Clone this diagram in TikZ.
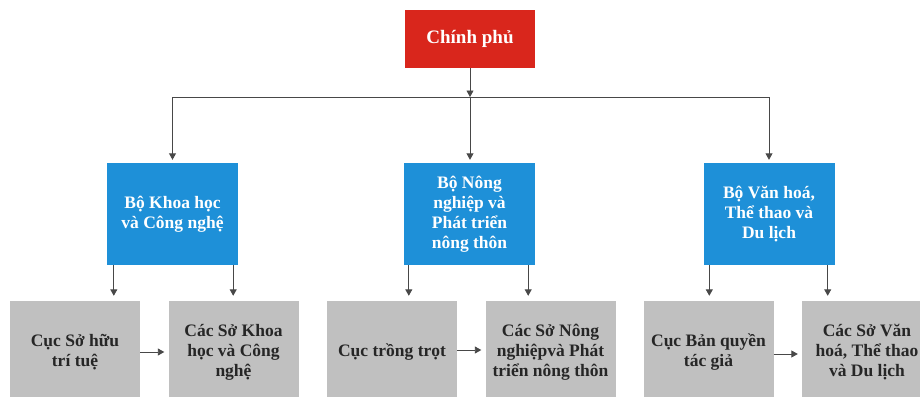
\documentclass[tikz,border=0pt]{standalone}
\usepackage{fontspec}
\setmainfont{Liberation Serif}
\usetikzlibrary{arrows.meta}
\definecolor{govred}{HTML}{D9261C}
\definecolor{minblue}{HTML}{1E90D8}
\definecolor{boxgrey}{HTML}{C0C0C0}
\definecolor{linegrey}{HTML}{484848}
\definecolor{greytext}{HTML}{262626}
\begin{document}
\begin{tikzpicture}[x=1pt,y=-1pt,
  govbox/.style={fill=govred,text=white,minimum width=130pt,minimum height=58pt,inner sep=0pt,
    font=\fontsize{19}{22}\selectfont\bfseries},
  minbox/.style={fill=minblue,text=white,minimum width=131pt,minimum height=102pt,inner sep=0pt,
    align=center,font=\fontsize{17.5}{20}\selectfont\bfseries},
  subbox/.style={fill=boxgrey,text=greytext,minimum width=130pt,minimum height=102pt,inner sep=0pt,
    align=center,font=\fontsize{17.5}{20}\selectfont\bfseries},
  conn/.style={draw=linegrey,line width=0.9pt},
  arr/.style={conn,-{Triangle[width=7pt,length=6.5pt]}}
]
\useasboundingbox (0,0) rectangle (920,396);
\clip (0,0) rectangle (920,396);
\fill[white] (0,0) rectangle (920,396);

\node[govbox] (gov) at (470,39) {Chính phủ};
\coordinate (j) at (470,97);

\node[minbox] (b1) at (172.5,214) {Bộ Khoa học\\và Công nghệ};
\node[minbox] (b2) at (469.5,214) {Bộ Nông\\nghiệp và\\Phát triển\\nông thôn};
\node[minbox] (b3) at (769,214) {Bộ Văn hoá,\\Thể thao và\\Du lịch};

\node[subbox] (a1) at (75,352) {Cục Sở hữu\\trí tuệ};
\node[subbox] (a2) at (233.5,352) {Các Sở Khoa\\học và Công\\nghệ};
\node[subbox] (a3) at (392,352) {Cục trồng trọt};
\node[subbox] (a4) at (550.5,352) {Các Sở Nông\\nghiệpvà Phát\\triển nông thôn};
\node[subbox] (a5) at (708.5,352) {Cục Bản quyền\\tác giả};
\node[subbox] (a6) at (867,352) {Các Sở Văn\\hoá, Thể thao\\và Du lịch};

% top level
\draw[arr] (gov) -- (j);
\draw[conn] (b1.north |- j) -- (b3.north |- j);
\draw[arr,shorten >=3pt] (b1.north |- j) -- (b1.north);
\draw[arr,shorten >=3pt] (j) -- (j |- b2.north);
\draw[arr,shorten >=3pt] (b3.north |- j) -- (b3.north);

% ministries to subordinate offices
\draw[arr,shorten >=5pt] ([xshift=7pt]b1.south west) -- ([xshift=7pt]b1.south west |- a1.north);
\draw[arr,shorten >=5pt] ([xshift=-5pt]b1.south east) -- ([xshift=-5pt]b1.south east |- a2.north);
\draw[arr,shorten >=5pt] ([xshift=5pt]b2.south west) -- ([xshift=5pt]b2.south west |- a3.north);
\draw[arr,shorten >=5pt] ([xshift=-7pt]b2.south east) -- ([xshift=-7pt]b2.south east |- a4.north);
\draw[arr,shorten >=5pt] ([xshift=6pt]b3.south west) -- ([xshift=6pt]b3.south west |- a5.north);
\draw[arr,shorten >=5pt] ([xshift=-7pt]b3.south east) -- ([xshift=-7pt]b3.south east |- a6.north);

% horizontal links
\draw[arr,shorten >=4pt] (a1.east) -- (a2.west);
\draw[arr,shorten >=4pt] ([yshift=2pt]a3.east) -- ([yshift=2pt]a4.west);
\draw[arr,shorten >=4pt] ([yshift=-2pt]a5.east) -- ([yshift=-2pt]a6.west);
\end{tikzpicture}
\end{document}
